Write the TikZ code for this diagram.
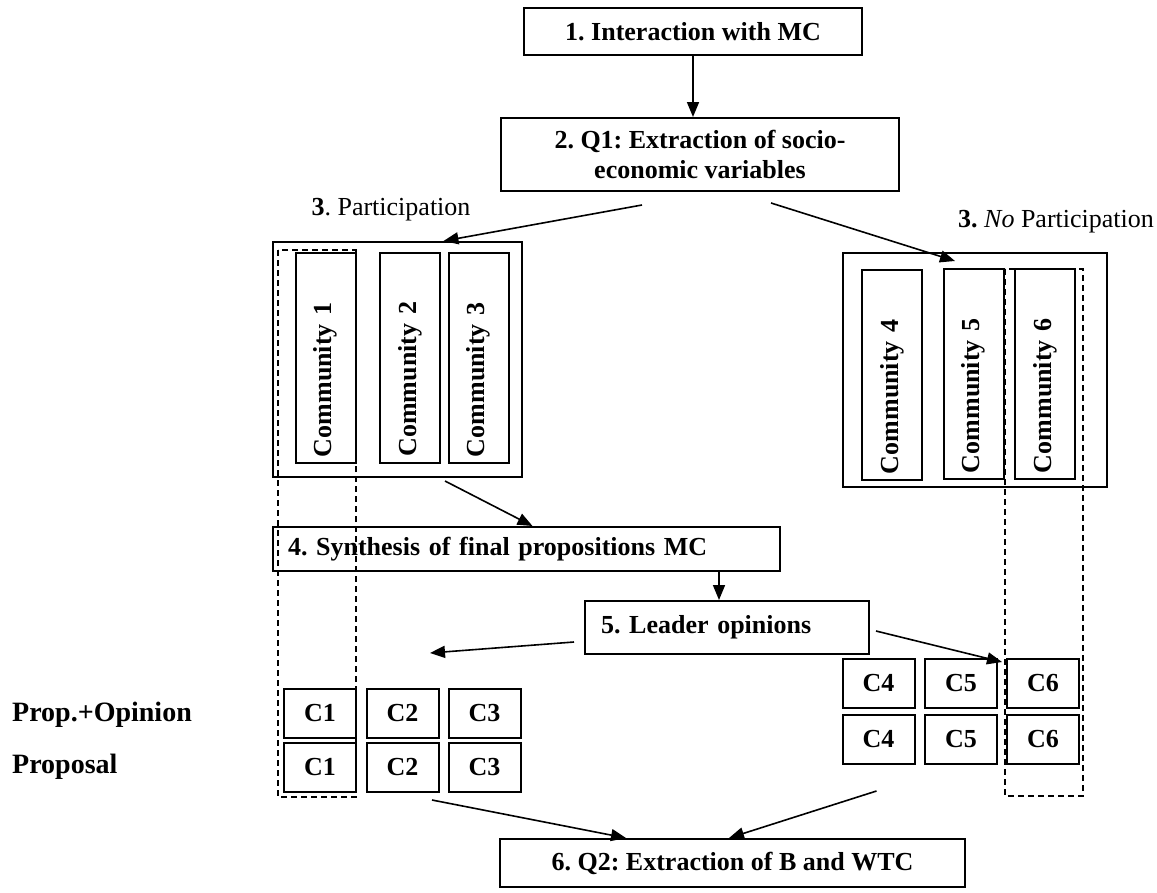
\documentclass[tikz,border=0pt]{standalone}
\usepackage{fontspec}
\setmainfont{Liberation Serif}
\usetikzlibrary{positioning, arrows.meta}
\frenchspacing

\begin{document}
\begin{tikzpicture}[x=1pt, y=-1pt]
    % Define the styles for the boxes and arrows
    \tikzset{
        stage/.style={rectangle, draw, line width=2pt, font=\fontsize{26}{30}\selectfont\bfseries, inner sep=0pt},
        group/.style={rectangle, draw, line width=2pt, inner sep=0pt},
        commbox/.style={rectangle, draw, line width=2pt, rotate=90, minimum height=60pt, text width=198pt, inner xsep=6pt, align=left, font=\fontsize{26}{30}\selectfont\bfseries},
        cell/.style={rectangle, draw, line width=2pt, minimum width=72pt, minimum height=49pt, font=\fontsize{26}{30}\selectfont\bfseries, inner sep=0pt},
        caption/.style={font=\fontsize{26}{30}\selectfont, inner sep=0pt},
        rowlabel/.style={anchor=west, font=\fontsize{28}{32}\selectfont\bfseries, inner sep=0pt},
        flow/.style={-{Triangle[length=15pt,width=12pt]}, line width=1.6pt},
        column/.style={dash pattern=on 6pt off 4pt, line width=1.6pt}
    }
    \useasboundingbox (0,0) rectangle (1157,892);

    % Draw the stages
    \node[stage, minimum width=338pt, minimum height=47pt] (s1) at (693,31.5) {1. Interaction with MC};
    \node[stage, minimum width=398pt, minimum height=73pt, align=center] (s2) at (700,154.5) {2. Q1: Extraction of socio-\\economic variables};
    \node[caption] (yes) at (391,210) {\textbf{3}. Participation};
    \node[caption] (no) at (1056,222) {\textbf{3.} \textit{No} Participation};

    % Draw the community groups
    \node[group, minimum width=249pt, minimum height=235pt] (grpA) at (397.5,359.5) {};
    \node[group, minimum width=264pt, minimum height=234pt] (grpB) at (975,370) {};
    \draw[column] (278,250) rectangle (356,797);
    \draw[column] (1005,269) rectangle (1083,796);
    \node[commbox] (comm1) at (325.5,358) {Community 1};
    \node[commbox] (comm2) at (410,357.5) {Community 2};
    \node[commbox] (comm3) at (478.5,358) {Community 3};
    \node[commbox] (comm4) at (892,375) {Community 4};
    \node[commbox] (comm5) at (973.5,374) {Community 5};
    \node[commbox] (comm6) at (1045,374) {Community 6};

    \node[stage, minimum height=44pt, text width=477pt, inner xsep=15pt, align=left] (s4) at (526.5,549) {4. Synthesis of final propositions MC};
    \node[stage, minimum height=53pt, text width=252pt, inner xsep=16pt, align=left] (s5) at (727,627.5) {5. Leader opinions};
    \coordinate (gapA) at (430,653);

    % Draw the rows of cells
    \node[rowlabel] (rowop) at (12,715) {Prop.+Opinion};
    \node[rowlabel] (rowpr) at (12,767) {Proposal};
    \node[cell] (p1) at (320,713.5) {C1};
    \node[cell] (p2) at (402.5,713.5) {C2};
    \node[cell] (p3) at (484.5,713.5) {C3};
    \node[cell] (q1) at (320,767.5) {C1};
    \node[cell] (q2) at (402.5,767.5) {C2};
    \node[cell] (q3) at (484.5,767.5) {C3};
    \node[cell] (p4) at (878.5,683.5) {C4};
    \node[cell] (p5) at (961,683.5) {C5};
    \node[cell] (p6) at (1043,683.5) {C6};
    \node[cell] (q4) at (878.5,739.5) {C4};
    \node[cell] (q5) at (961,739.5) {C5};
    \node[cell] (q6) at (1043,739.5) {C6};

    \node[stage, minimum width=465pt, minimum height=48pt] (s6) at (732.5,863) {6. Q2: Extraction of B and WTC};

    % Draw the arrows
    \draw[flow] (s1.south) -- (s1.south |- s2.north);
    \draw[flow] ([xshift=-58pt, yshift=-13pt]s2.south) -- ([xshift=46pt]grpA.north);
    \draw[flow] ([xshift=71pt, yshift=-11pt]s2.south) -- ([xshift=-20pt, yshift=-9pt]grpB.north);
    \draw[flow] ([xshift=47.5pt, yshift=-3pt]grpA.south) -- ([xshift=6pt]s4.north);
    \draw[flow] ([xshift=-8pt]s5.north |- s4.south) -- ([xshift=-8pt]s5.north);
    \draw[flow] ([xshift=-10pt, yshift=-14.5pt]s5.west) -- (gapA);
    \draw[flow] ([xshift=6pt, yshift=-3.5pt]s5.east) -- ([xshift=-4pt, yshift=-4pt]p6.north west);
    \draw[flow] ([xshift=29.5pt, yshift=-7pt]q2.south) -- ([xshift=-106.5pt]s6.north);
    \draw[flow] ([xshift=-2pt, yshift=-26pt]q4.south) -- ([xshift=-3.5pt]s6.north);
\end{tikzpicture}
\end{document}
